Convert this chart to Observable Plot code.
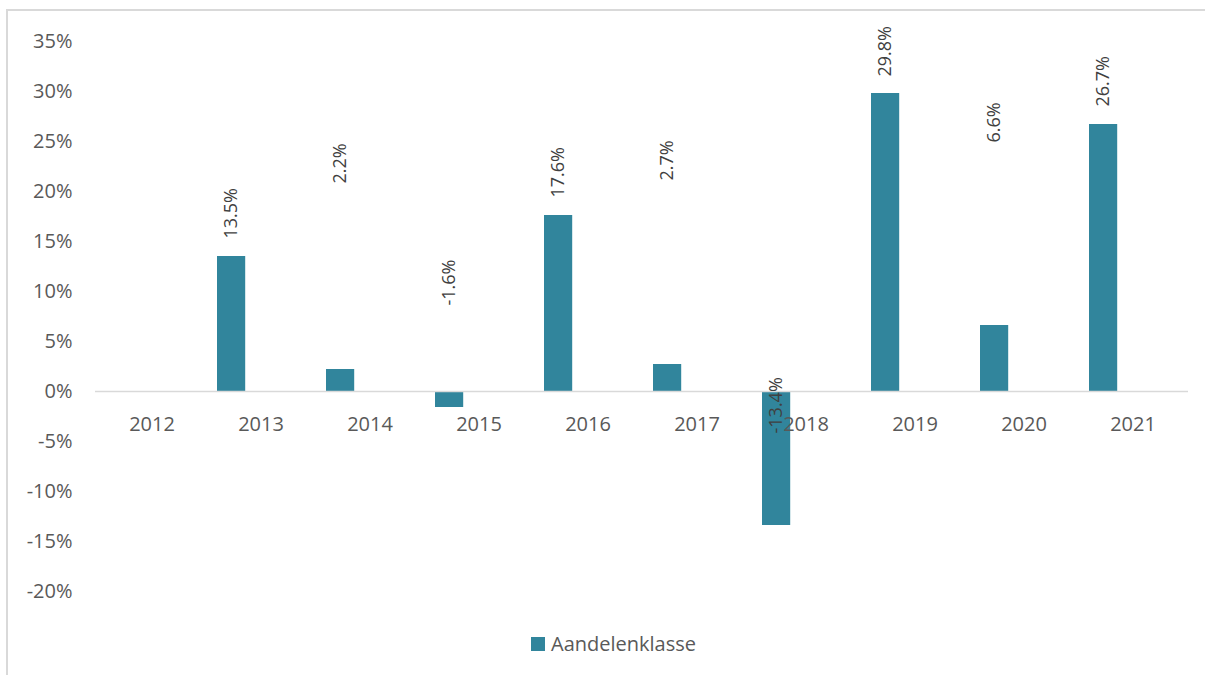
<!DOCTYPE html>
<html>
<head>
<meta charset="utf-8">
<script src="https://cdn.jsdelivr.net/npm/d3@7"></script>
<script src="https://cdn.jsdelivr.net/npm/@observablehq/plot@0.6"></script>
<style>
  html, body { margin: 0; padding: 0; background: #fff; }
  body { width: 1205px; height: 675px; position: relative; overflow: hidden; font-family: "Open Sans", sans-serif; }
  #frame { position: absolute; left: 6px; top: 9px; width: 1199px; height: 666px; border-left: 2px solid #d9d9d9; border-top: 2px solid #d9d9d9; box-sizing: border-box; }
  #chart { position: absolute; left: 0; top: 0; }
  #legend { position: absolute; left: 531px; top: 630px; display: flex; align-items: center; gap: 6px; font-size: 20px; color: #595959; }
  #legend .sw { width: 14px; height: 14px; background: #31859c; }
</style>
</head>
<body>
<div id="frame"></div>
<div id="chart"></div>
<div id="legend"><span class="sw"></span><span>Aandelenklasse</span></div>
<script>
const years = ["2012","2013","2014","2015","2016","2017","2018","2019","2020","2021"];
const returns = [null, 13.5, 2.2, -1.6, 17.6, 2.7, -13.4, 29.8, 6.6, 26.7];
const valueLabels = ["", "13.5%", "2.2%", "-1.6%", "17.6%", "2.7%", "-13.4%", "29.8%", "6.6%", "26.7%"];
const labelAt = [null, 15.3, 20.8, 8.6, 19.4, 21.1, -4.2, 31.5, 24.9, 28.5];
const yTicks = [-20, -15, -10, -5, 0, 5, 10, 15, 20, 25, 30, 35];

const data = years.map((year, i) => ({year, value: returns[i], label: valueLabels[i], at: labelAt[i]}));
const withValue = data.filter(d => d.value != null);

const barColor = "#31859c";
const bandW = (1188 - 95) / years.length;
const insetL = 11, barW = 28.5;

const chart = Plot.plot({
  width: 1205,
  height: 620,
  marginLeft: 95,
  marginRight: 17,
  marginTop: 41,
  marginBottom: 29,
  style: {fontFamily: "Open Sans, sans-serif", background: "transparent"},
  x: {domain: years, padding: 0, axis: null},
  y: {domain: [-20, 35], axis: null},
  marks: [
    Plot.axisY(yTicks, {
      tickSize: 0, tickPadding: 23, fontSize: 20, fill: "#595959",
      tickFormat: d => d + "%"
    }),
    Plot.barY(withValue, {
      x: "year", y: "value", fill: barColor,
      insetLeft: insetL, insetRight: bandW - insetL - barW
    }),
    Plot.ruleY([0], {stroke: "#d9d9d9", strokeWidth: 1.5}),
    Plot.text(years, {
      x: d => d, y: () => 0, dy: 33, fontSize: 20, fill: "#595959", text: d => d
    }),
    Plot.text(withValue, {
      x: "year", y: "at", text: "label", rotate: -90, textAnchor: "start",
      dx: insetL + barW / 2 - bandW / 2, fontSize: 18, fill: "#404040"
    })
  ]
});
document.getElementById("chart").appendChild(chart);
</script>
</body>
</html>
